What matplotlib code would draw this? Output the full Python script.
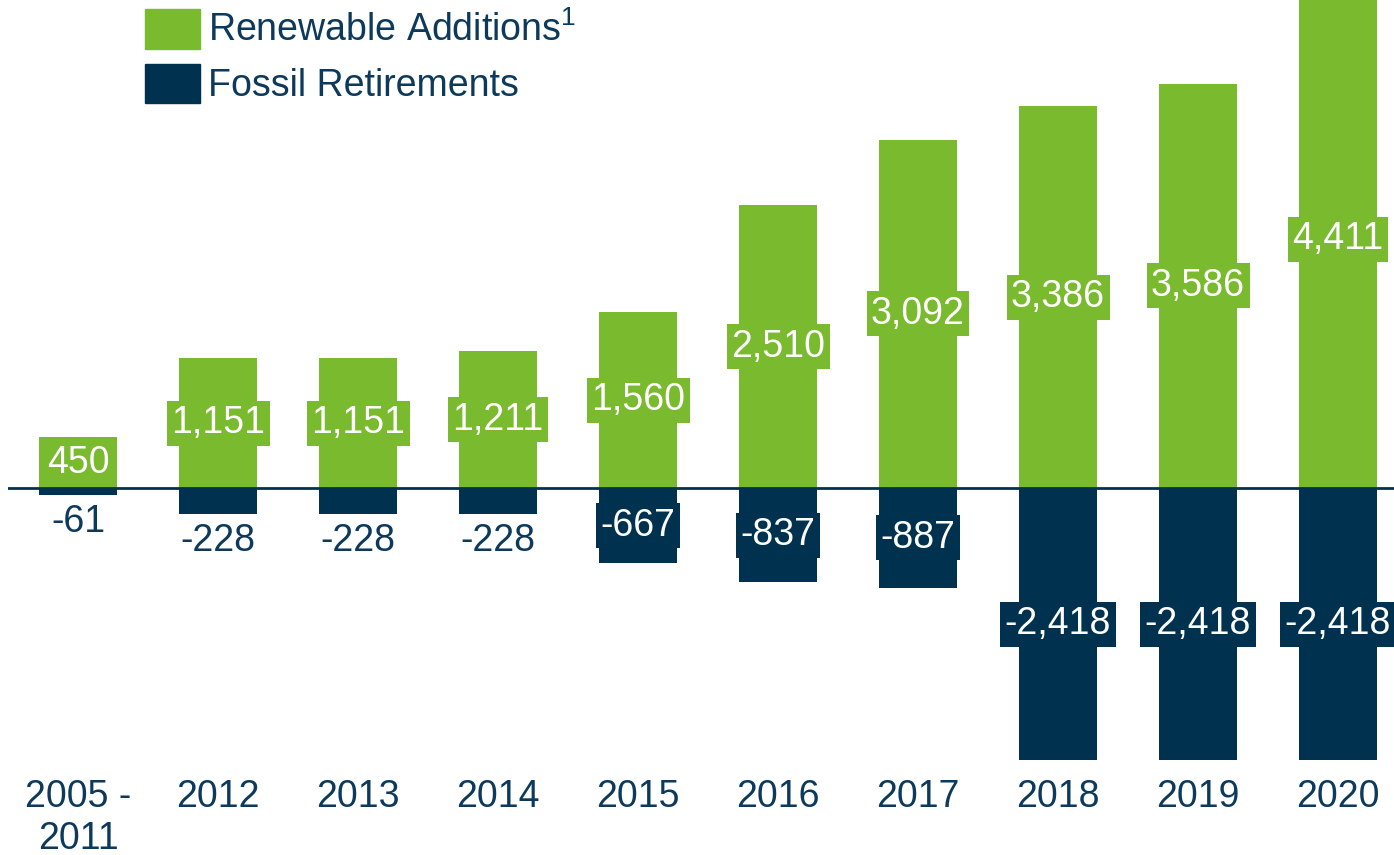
import matplotlib
matplotlib.use("Agg")
import matplotlib.pyplot as plt
from matplotlib.patches import Patch
import numpy as np

categories = ["2005 -\n2011", "2012", "2013", "2014", "2015",
              "2016", "2017", "2018", "2019", "2020"]
renewable = [450, 1151, 1151, 1211, 1560, 2510, 3092, 3386, 3586, 4411]
fossil = [-61, -228, -228, -228, -667, -837, -887, -2418, -2418, -2418]

GREEN = "#7aba2f"
NAVY = "#00324f"
TEXT = "#0d3a5c"

plt.rcParams["font.family"] = ["Liberation Sans", "DejaVu Sans"]
plt.rcParams["mathtext.fontset"] = "custom"
plt.rcParams["mathtext.rm"] = "Liberation Sans"
FS = 27

fig = plt.figure(figsize=(13.94, 8.55), dpi=100)
ax = fig.add_axes([8 / 1394, 80 / 855, 1 - 8 / 1394, 1 - 80 / 855])

x = np.arange(len(categories))
w = 0.557
ax.bar(x, renewable, w, color=GREEN, zorder=2)
ax.bar(x, fossil, w, color=NAVY, zorder=2)
ax.axhline(0, color=NAVY, lw=2, zorder=3)

ax.set_xlim(-0.5, 9.4)
ax.set_ylim(-2547, 4330)

def fmt(v):
    return f"{v:,}"

# green labels sit in the middle of each bar on a green box
for xi, v in zip(x, renewable):
    ax.text(xi, v / 2, fmt(v), ha="center", va="center", color="white",
            fontsize=FS, zorder=4,
            bbox=dict(boxstyle="square,pad=0.12", fc=GREEN, ec="none"))

# short fossil bars get the label underneath
for xi, v in zip(x, fossil):
    if v > -500:
        ax.text(xi, v - 240, fmt(v), ha="center", va="center", color=TEXT,
                fontsize=FS, zorder=4)
    else:
        ax.text(xi, v / 2, fmt(v), ha="center", va="center", color="white",
                fontsize=FS, zorder=4,
                bbox=dict(boxstyle="square,pad=0.12", fc=NAVY, ec="none"))

ax.set_xticks(x)
ax.set_xticklabels(categories, fontsize=FS, color=TEXT, linespacing=1.22)
ax.tick_params(axis="x", length=0, pad=3)
ax.set_yticks([])
for s in ax.spines.values():
    s.set_visible(False)

handles = [Patch(color=GREEN, label=r"Renewable Additions$^\mathrm{1}$"),
           Patch(color=NAVY, label="Fossil Retirements")]
leg = fig.legend(handles=handles, loc="upper left",
                 bbox_to_anchor=(145 / 1394, 1 - 9 / 855), frameon=False,
                 fontsize=FS, handlelength=1.47, handleheight=1.25,
                 handletextpad=0.2, labelspacing=0.38, borderpad=0,
                 borderaxespad=0)
for t in leg.get_texts():
    t.set_color(TEXT)

fig.savefig("out.png", dpi=100)
